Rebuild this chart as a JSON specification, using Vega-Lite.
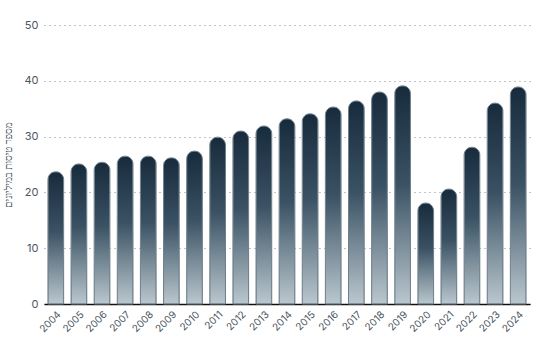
{
  "$schema": "https://vega.github.io/schema/vega-lite/v6.json",
  "autosize": {"type": "none"},
  "width": 486,
  "height": 279,
  "padding": {"left": 44, "top": 25, "right": 11, "bottom": 48},
  "background": "white",
  "config": {
    "view": {"stroke": null},
    "font": "Inter",
    "axis": {"labelFont": "Inter", "titleFont": "Noto Sans", "labelColor": "#4a5560", "titleColor": "#4a5560"}
  },
  "data": {
    "values": [
      {"year": "2004", "flights": 23.7},
      {"year": "2005", "flights": 25.1},
      {"year": "2006", "flights": 25.4},
      {"year": "2007", "flights": 26.5},
      {"year": "2008", "flights": 26.5},
      {"year": "2009", "flights": 26.2},
      {"year": "2010", "flights": 27.4},
      {"year": "2011", "flights": 29.9},
      {"year": "2012", "flights": 31.0},
      {"year": "2013", "flights": 31.9},
      {"year": "2014", "flights": 33.2},
      {"year": "2015", "flights": 34.1},
      {"year": "2016", "flights": 35.3},
      {"year": "2017", "flights": 36.4},
      {"year": "2018", "flights": 38.0},
      {"year": "2019", "flights": 39.1},
      {"year": "2020", "flights": 18.1},
      {"year": "2021", "flights": 20.6},
      {"year": "2022", "flights": 28.1},
      {"year": "2023", "flights": 36.0},
      {"year": "2024", "flights": 38.9}
    ]
  },
  "mark": {
    "type": "bar",
    "cornerRadiusTopLeft": 12,
    "cornerRadiusTopRight": 12,
    "stroke": "#6f7f8a",
    "strokeWidth": 1,
    "color": {
      "gradient": "linear",
      "x1": 0, "y1": 0, "x2": 0, "y2": 1,
      "stops": [
        {"offset": 0, "color": "#172b3c"},
        {"offset": 0.45, "color": "#3a5264"},
        {"offset": 1, "color": "#bac7ce"}
      ]
    }
  },
  "encoding": {
    "x": {
      "field": "year",
      "type": "ordinal",
      "scale": {"paddingInner": 0.32, "paddingOuter": 0.17},
      "axis": {
        "title": null,
        "labelAngle": -45,
        "labelFontSize": 10,
        "ticks": false,
        "domainColor": "#111111",
        "domainWidth": 1.5,
        "labelPadding": 5
      }
    },
    "y": {
      "field": "flights",
      "type": "quantitative",
      "scale": {"domain": [0, 50]},
      "axis": {
        "title": "מספר טיסות במיליונים",
        "titleFontSize": 10,
        "titleFontWeight": "normal",
        "titlePadding": 10,
        "values": [0, 10, 20, 30, 40, 50],
        "labelFontSize": 11,
        "labelPadding": 6,
        "ticks": false,
        "domain": false,
        "grid": true,
        "gridColor": "#888888",
        "gridDash": [1, 4],
        "gridWidth": 1
      }
    }
  }
}
